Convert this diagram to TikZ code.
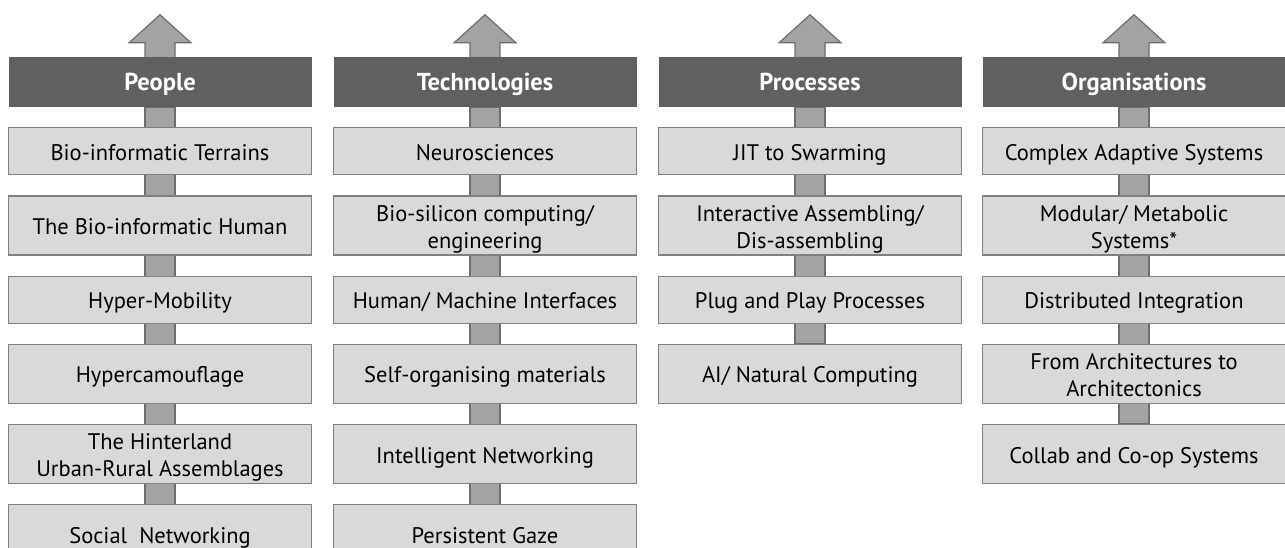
\documentclass[tikz,border=0pt]{standalone}
\usepackage{fontspec}
\setmainfont{PT Sans}
\usetikzlibrary{positioning}
\usetikzlibrary{backgrounds}

\definecolor{headgray}{RGB}{96,96,96}
\definecolor{boxgray}{RGB}{217,217,217}
\definecolor{boxline}{RGB}{128,128,128}
\definecolor{shaftgray}{RGB}{163,163,163}
\definecolor{shaftline}{RGB}{110,110,110}

\begin{document}
\begin{tikzpicture}[
    node distance=20pt,
    every node/.style={font=\fontsize{22.5}{27}\selectfont, text height=18pt, text depth=0pt},
    head/.style={rectangle, fill=headgray, text=white, font=\fontsize{24.5}{27}\selectfont\bfseries,
        minimum width=303pt, minimum height=50pt, inner sep=0pt},
    item/.style={rectangle, draw=boxline, fill=boxgray, line width=1.2pt, align=center,
        minimum width=303pt, minimum height=47pt, inner sep=0pt},
    tall/.style={minimum height=59pt},
    twoline/.style={tall, text height=45pt},
    shaft/.style={fill=shaftgray, draw=shaftline, line width=1.2pt}
]
\useasboundingbox (0,0) rectangle (1285pt,-548pt);

% People
\node[head] (p0) at (160pt,-82pt) {People};
\node[item, below=of p0] (p1) {Bio-informatic Terrains};
\node[item, tall, below=of p1] (p2) {The Bio-informatic Human};
\node[item, below=of p2] (p3) {Hyper-Mobility};
\node[item, tall, below=of p3] (p4) {Hypercamouflage};
\node[item, twoline, below=of p4] (p5) {The Hinterland\\Urban-Rural Assemblages};
\node[item, tall, below=of p5] (p6) {Social~ Networking};

% Technologies
\node[head] (t0) at (485pt,-82pt) {Technologies};
\node[item, below=of t0] (t1) {Neurosciences};
\node[item, twoline, below=of t1] (t2) {Bio-silicon computing/\\engineering};
\node[item, below=of t2] (t3) {Human/ Machine Interfaces};
\node[item, tall, below=of t3] (t4) {Self-organising materials};
\node[item, tall, below=of t4] (t5) {Intelligent Networking};
\node[item, tall, below=of t5] (t6) {Persistent Gaze};

% Processes
\node[head] (r0) at (810pt,-82pt) {Processes};
\node[item, below=of r0] (r1) {JIT to Swarming};
\node[item, twoline, below=of r1] (r2) {Interactive Assembling/\\Dis-assembling};
\node[item, below=of r2] (r3) {Plug and Play Processes};
\node[item, tall, below=of r3] (r4) {AI/ Natural Computing};

% Organisations
\node[head] (o0) at (1134pt,-82pt) {Organisations};
\node[item, below=of o0] (o1) {Complex Adaptive Systems};
\node[item, twoline, below=of o1] (o2) {Modular/ Metabolic\\Systems*};
\node[item, below=of o2] (o3) {Distributed Integration};
\node[item, twoline, below=of o3] (o4) {From Architectures to\\Architectonics};
\node[item, tall, below=of o4] (o5) {Collab and Co-op Systems};

% Arrows behind the boxes
\begin{scope}[on background layer]
\foreach \top/\last in {p0/p6, t0/t6, r0/r4, o0/o5} {
    \draw[shaft] ([xshift=-15pt]\top.south) rectangle ([xshift=15pt]\last.north);
    \draw[shaft] (\top.north) ++(-15pt,0) -- ++(0,14pt) -- ++(-16pt,0) -- ++(31pt,28pt)
        -- ++(31pt,-28pt) -- ++(-16pt,0) -- ++(0,-14pt);
}
\end{scope}

\end{tikzpicture}
\end{document}
